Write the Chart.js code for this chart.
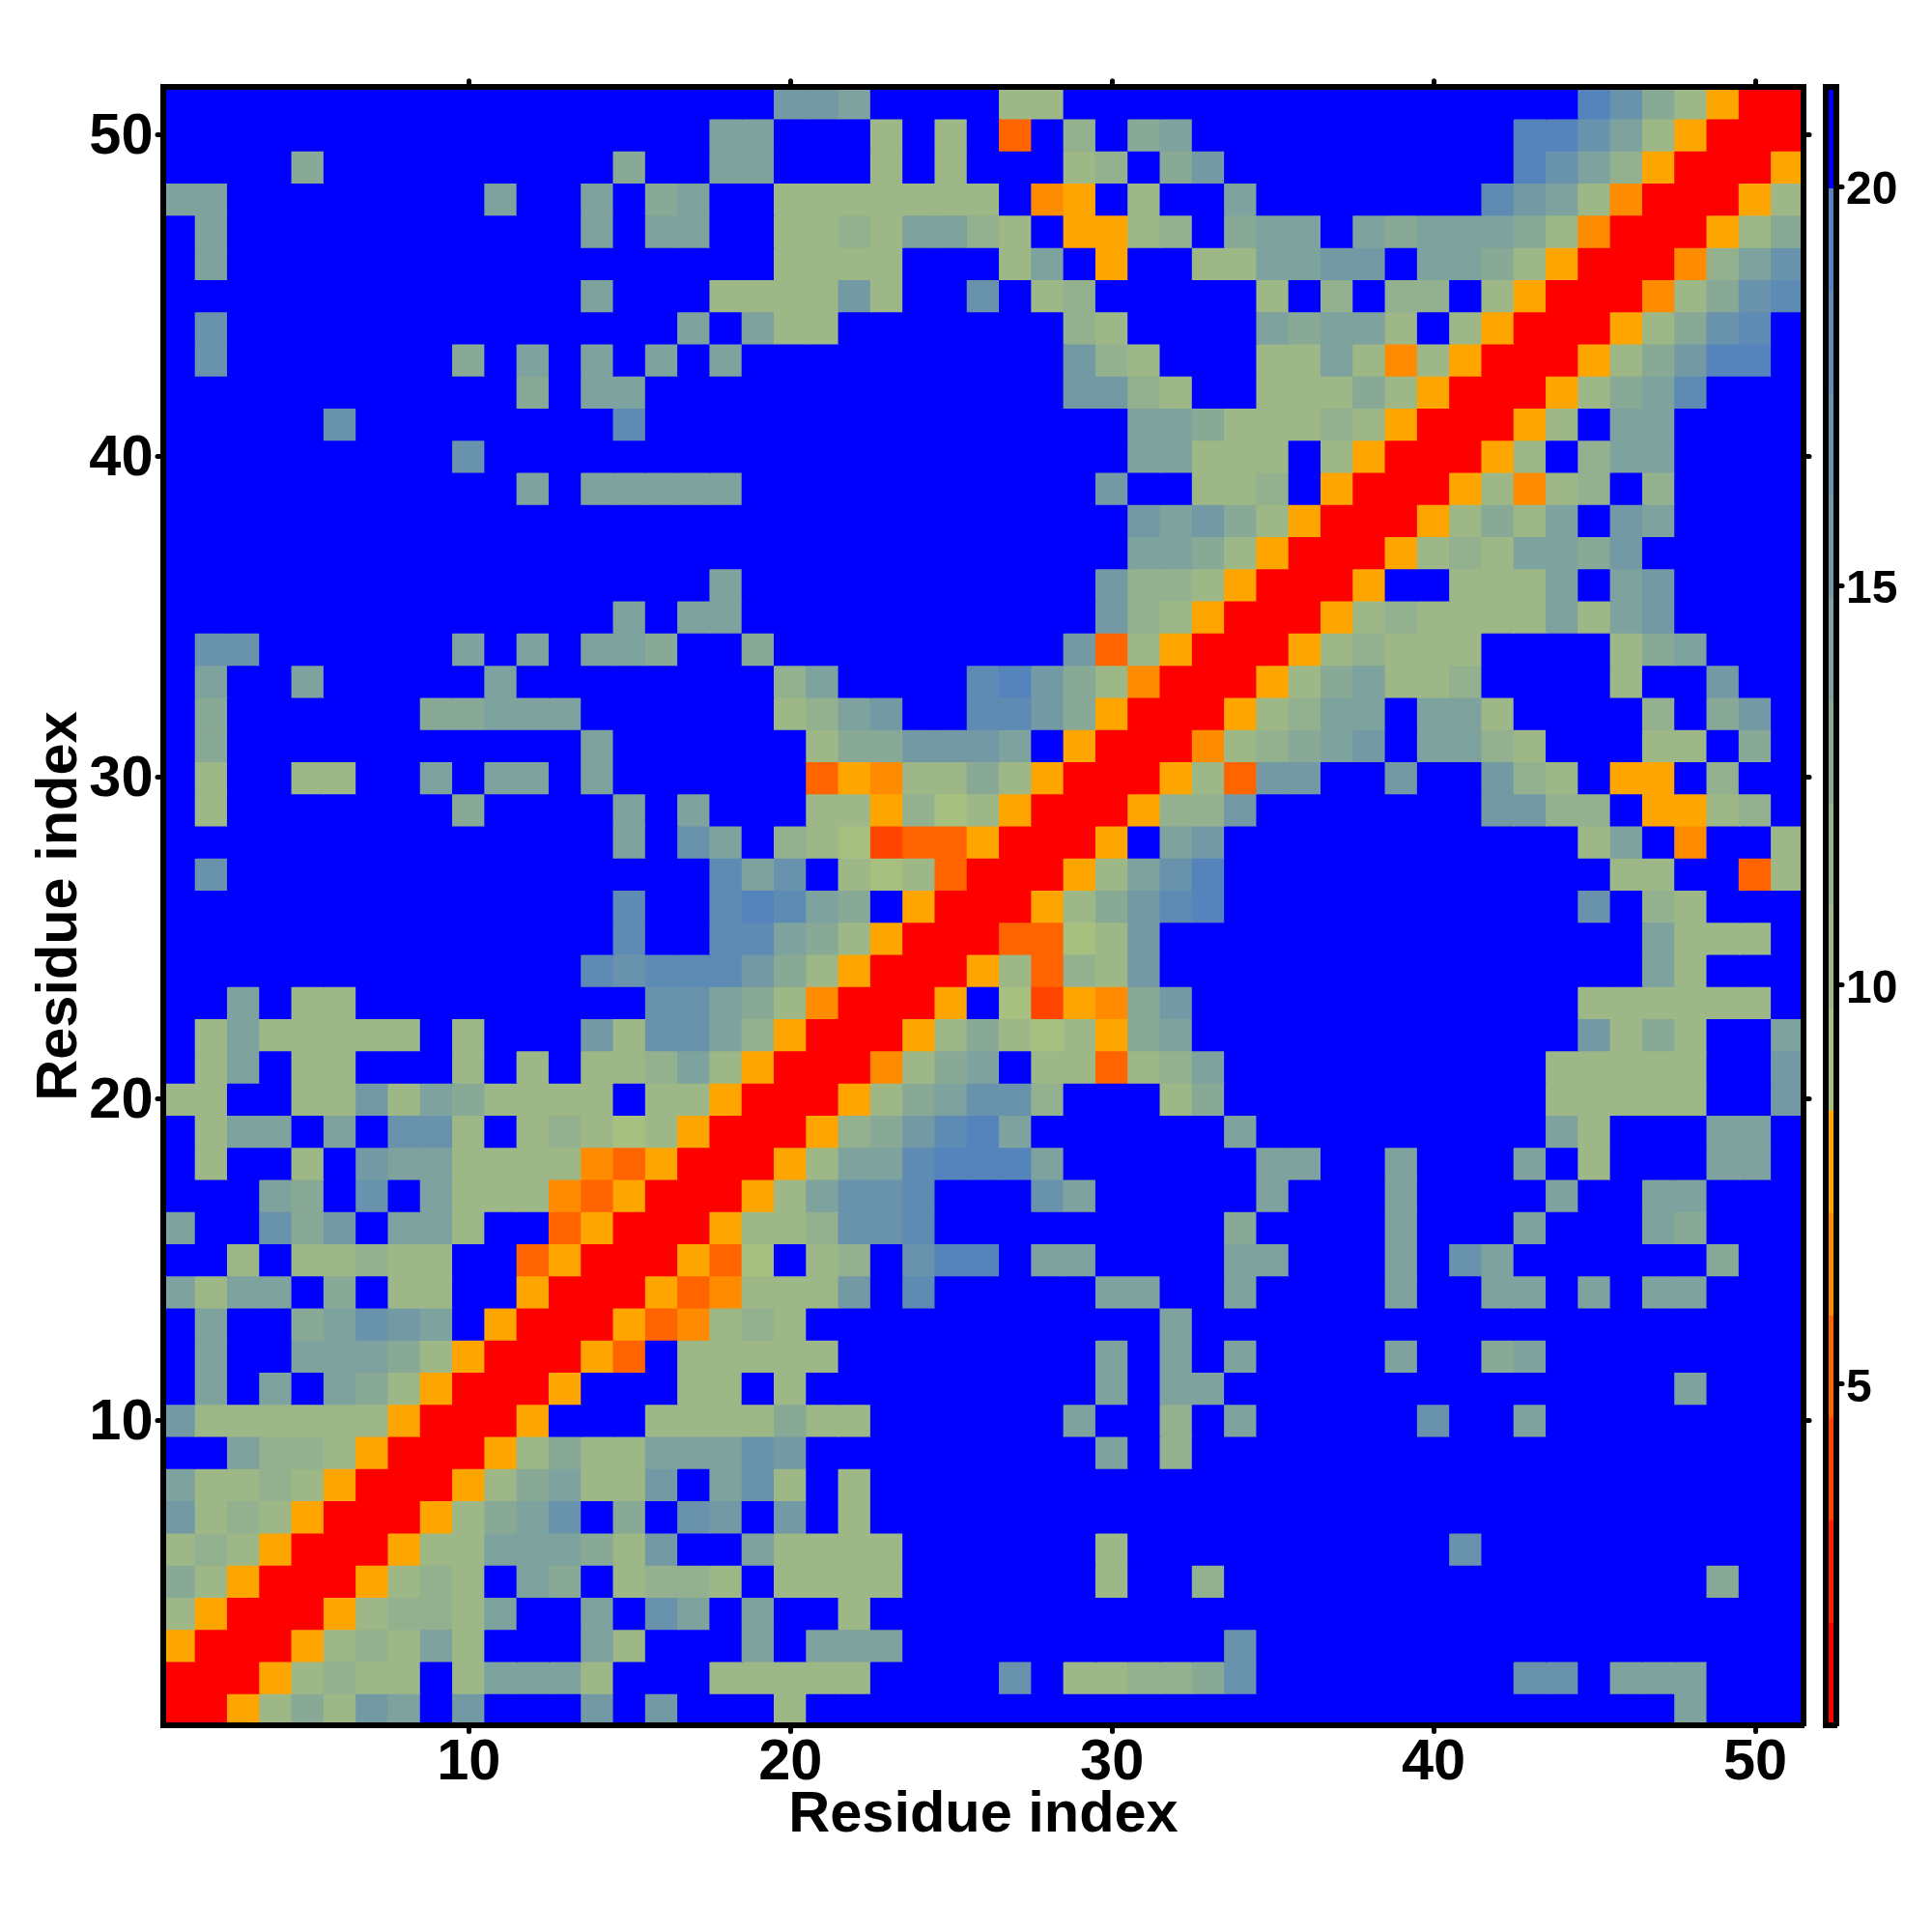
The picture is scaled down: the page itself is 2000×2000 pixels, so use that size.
<!DOCTYPE html>
<html>
<head>
<meta charset="utf-8">
<title>Residue contact map</title>
<script src="https://cdn.jsdelivr.net/npm/chart.js@4"></script>
<style>
  html, body { margin: 0; padding: 0; background: #fff; }
  #wrap { position: relative; width: 2000px; height: 2000px; }
  canvas { position: absolute; top: 0; }
  #map { left: 0; }
  #bar { left: 1880px; }
</style>
</head>
<body>
<div id="wrap">
  <canvas id="map" width="2000" height="2000"></canvas>
  <canvas id="bar" width="120" height="2000"></canvas>
</div>
<script>
// Distance read for each colour level, the level boundaries of the colour key, and its colours
const levelValues = [1.4, 2.6, 3.9, 5.2, 6.5, 7.8, 9.1, 10.3, 11.6, 12.9, 14.2, 15.5, 16.8, 18.1, 19.3, 20.6];
const levelBreaks = [0.72, 2.0, 3.29, 4.57, 5.85, 7.14, 8.42, 9.7, 10.99, 12.27, 13.55, 14.84, 16.12, 17.4, 18.69, 19.97, 21.25];
const levelColors = [
  "#ff0000", "#ff2000", "#ff4500", "#ff6400", "#ff8c00", "#ffa500",
  "#a8c07f", "#9db886", "#93b18e", "#88a995", "#7ea29d", "#739aa4",
  "#6993ac", "#5e8bb3", "#5484bb", "#0000ff"
];
const residues = [1,2,3,4,5,6,7,8,9,10,11,12,13,14,15,16,17,18,19,20,21,22,23,24,25,26,27,28,29,30,31,32,33,34,35,36,37,38,39,40,41,42,43,44,45,46,47,48,49,50,51];
const mapTicks = [10, 20, 30, 40, 50];
const keyTicks = [5, 10, 15, 20];

// One string per residue row, top row (51) first, one hex digit per cell = colour level
const rows = [
  "fffffffffffffffff" + "ffbbaffff77ffffff" + "ffffffffffec97500",
  "fffffffffffffffff" + "aafff7f7f3f8f9aff" + "ffffffffeeca75000",
  "ffff9fffffffff9ff" + "aafff7f7fff78f9bf" + "ffffffffeca850005",
  "aaffffffffaffaf9a" + "ff7777777f45f7ffa" + "fffffffdba7400057",
  "fafffffffffffafaa" + "ff7787aa87f5578f9" + "aafa9aaa974000579",
  "fafffffffffffffff" + "ff7777fff7af5ff77" + "aabbfaa97500048ac",
  "fffffffffffffafff" + "7777b7ffcf78fffff" + "7f8f88f75000479cd",
  "fcffffffffffffffa" + "fa77fffffff87ffff" + "a9aa7f75000579cdf",
  "fcfffffff9fafafaf" + "affffffffffb87fff" + "77a7475000579beef",
  "fffffffffff9faaff" + "fffffffffffbb87ff" + "777975000579adfff",
  "fffffcffffffffdff" + "fffffffffffffaa97" + "7787500057faaffff",
  "fffffffffcfffffff" + "fffffffffffffaa77" + "7f7500057f8aaffff",
  "fffffffffffafaaaa" + "afffffffffffbff77" + "8f500057478f8ffff",
  "fffffffffffffffff" + "fffffffffffffbab9" + "750005797afbaffff",
  "fffffffffffffffff" + "fffffffffffffaa97" + "50005787aa9bfffff",
  "fffffffffffffffff" + "afffffffffffb8875" + "0005ff777afabffff",
  "ffffffffffffffafa" + "afffffffffffb8750" + "005787777a7abffff",
  "fccffffffafafaa9f" + "f9fffffffffb37500" + "0578777ffff79afff",
  "faffafffffaffffff" + "ff8affffdeb974000" + "579a778ffff7ffbff",
  "f9ffffff99aaaffff" + "ff78abffddb950005" + "78aafaa7ffff8f9bf",
  "f9fffffffffffafff" + "fff799bbbaf500047" + "89abfaa87fff77f9f",
  "f7ff77ffafaafafff" + "fff35477975000573" + "bbffbffb87f55f8ff",
  "f7fffffff9ffffafa" + "fff7758675000588b" + "fffffffbb88f5578f",
  "ffffffffffffffafc" + "af87623350005fabf" + "ffffffffff7af4ff7",
  "fcfffffffffffffff" + "dacf767300057acef" + "fffffffffff77ff37",
  "ffffffffffffffdff" + "deda9f5000579bdef" + "ffffffffffcf87fff",
  "ffffffffffffffdff" + "dda9750003367bfff" + "ffffffffffffa777f",
  "fffffffffffffdcdd" + "db97500057387bfff" + "ffffffffffffa7fff",
  "ffaf77fffffffffcc" + "a9740005f62549bff" + "ffffffffff777777f",
  "f7a77777f7fffb7cc" + "a8500057976759aff" + "ffffffffffb797ffa",
  "f7af77fff7f7f778a" + "75000479af77378af" + "fffffffff77777ffb",
  "77ff77b7a97777f77" + "5000579acc8fff79f" + "fffffffff77777ffb",
  "f7aafafcc7f787675" + "000589bdeaffffffa" + "fffffffffa7fffaaf",
  "f7ff7fbaa77774350" + "0057aadeeeaffffff" + "aaffafffaf7fffaaf",
  "fffa9fcfa77743500" + "057accdfffcafffff" + "afffaffffaffaafff",
  "affc9bfaa7ff35000" + "5778ccdfffffffff9" + "ffffafffafffa9fff",
  "ff7f77877ff350005" + "36f78fceefaaffffa" + "afffafcaffffff9ff",
  "a7aaf9f77ff500053" + "4777bfdfffffaaffa" + "ffffaffaafafaafff",
  "faff9acbaf5000534" + "787fffffffffffaff" + "fffffffffffffffff",
  "faffaaa97500053f7" + "7777ffffffffafafa" + "ffffaff9affffffff",
  "fafafa9750005fff7" + "7f7fffffffffafaaf" + "fffffffffffffafff",
  "b77777750005fff77" + "77977ffffffaff8fa" + "fffffcffaffffffff",
  "ffa887500057977aa" + "acbfffffffffaf8ff" + "fffffffffffffffff",
  "a77875000579a77bf" + "ac7f7ffffffffffff" + "fffffffffffffffff",
  "b7875000579acf9fc" + "bfbf7ffffffffffff" + "fffffffffffffffff",
  "7875000577aaa97bf" + "fa7777ffffff7ffff" + "ffffffcffffffffff",
  "9750005787fa9f788" + "7f7777ffffff7ff8f" + "ffffffffffffff9ff",
  "7500057887affafca" + "faff7ffffffffffff" + "fffffffffffffffff",
  "50005787a7fffa7ff" + "fafaaaffffffffffc" + "fffffffffffffffff",
  "00057877f7aaa7fff" + "77777ffffcf77889c" + "ffffffffccfaaafff",
  "005797bafbfffbfbf" + "ff7ffffffffffffff" + "fffffffffffffafff"
];

const colorForValue = (v) => {
  for (let k = 0; k < levelColors.length; k++) {
    if (v < levelBreaks[k + 1]) return levelColors[k];
  }
  return levelColors[levelColors.length - 1];
};

// Rounded tick ends only; the frame is drawn after the datasets with plain ends
const roundCaps = {
  id: "roundCaps",
  beforeDraw(chart) { chart.ctx.lineCap = "round"; },
  beforeDatasetsDraw(chart) { chart.ctx.lineCap = "butt"; }
};

const setTicks = (values) => (scale) => {
  scale.ticks = values.map((v) => ({ value: v, label: String(v) }));
};

const axisBase = {
  border: { color: "#000", width: 6, z: 2 },
  grid: { drawOnChartArea: false, drawTicks: true, tickLength: 6, tickWidth: 5, tickColor: "#000", offset: false }
};

const mapFont = { family: "'Liberation Sans', Arial, sans-serif", weight: "bold", size: 59.5 };

// One floating-bar dataset per row, so each cell is one bar on the shared scales
const mapDatasets = rows.map((row, t) => {
  const residue = residues[residues.length - 1 - t];
  const values = row.split("").map((c) => levelValues[parseInt(c, 16)]);
  return {
    data: residues.map((x) => ({ x, y: [residue - 0.5, residue + 0.5] })),
    backgroundColor: values.map(colorForValue),
    borderWidth: 0,
    inflateAmount: 0.6,
    grouped: false,
    barPercentage: 1,
    categoryPercentage: 1,
    xAxisID: "x",
    yAxisID: "y"
  };
});

new Chart(document.getElementById("map"), {
  type: "bar",
  data: { datasets: mapDatasets },
  plugins: [roundCaps],
  options: {
    responsive: false,
    animation: false,
    layout: { padding: 0 },
    plugins: { legend: { display: false }, tooltip: { enabled: false } },
    scales: {
      x: {
        ...axisBase, type: "linear", position: "bottom", min: 0.5, max: 51.5, offset: false,
        afterBuildTicks: setTicks(mapTicks),
        afterFit: (s) => { s.height = 213.6; },
        ticks: { autoSkip: false, maxRotation: 0, color: "#000", font: mapFont, padding: -3 },
        title: { display: true, text: "Residue index", color: "#000", font: mapFont, padding: { top: 0, bottom: 84.5 } }
      },
      xTop: {
        ...axisBase, type: "linear", position: "top", min: 0.5, max: 51.5, offset: false,
        afterBuildTicks: setTicks(mapTicks),
        afterFit: (s) => { s.height = 89.7; },
        ticks: { display: false }
      },
      y: {
        ...axisBase, type: "linear", position: "left", min: 0.5, max: 51.5,
        afterBuildTicks: setTicks(mapTicks),
        afterFit: (s) => { s.width = 169; },
        ticks: { color: "#000", font: mapFont, padding: 4.5, labelOffset: 3 },
        title: { display: true, text: "Residue index", color: "#000", font: mapFont, padding: { top: 26.5, bottom: 0 } }
      },
      yRight: {
        ...axisBase, type: "linear", position: "right", min: 0.5, max: 51.5,
        afterBuildTicks: setTicks(mapTicks),
        afterFit: (s) => { s.width = 133; },
        ticks: { display: false }
      }
    }
  }
});

// Colour key
const keyDatasets = levelColors.map((color, k) => ({
  data: [[levelBreaks[k], levelBreaks[k + 1]]],
  backgroundColor: color,
  borderWidth: 0,
  inflateAmount: 0.6,
  grouped: false,
  barPercentage: 1,
  categoryPercentage: 1,
  xAxisID: "x",
  yAxisID: "yRight"
}));

const keyBorder = { border: { color: "#000", width: 6, z: 2 }, grid: { display: true, drawOnChartArea: false, drawTicks: false } };

new Chart(document.getElementById("bar"), {
  type: "bar",
  data: { labels: ["key"], datasets: keyDatasets },
  plugins: [roundCaps],
  options: {
    responsive: false,
    animation: false,
    layout: { padding: 0 },
    plugins: { legend: { display: false }, tooltip: { enabled: false } },
    scales: {
      x: { ...keyBorder, type: "category", position: "bottom", afterFit: (s) => { s.height = 213.6; }, ticks: { display: false } },
      xTop: { ...keyBorder, type: "category", labels: ["key"], position: "top", afterFit: (s) => { s.height = 89.7; }, ticks: { display: false } },
      yLeft: { ...keyBorder, type: "linear", position: "left", min: 0.72, max: 21.25, afterFit: (s) => { s.width = 9.5; }, ticks: { display: false } },
      yRight: {
        ...axisBase, type: "linear", position: "right", min: 0.72, max: 21.25,
        afterBuildTicks: setTicks(keyTicks),
        afterFit: (s) => { s.width = 99; },
        ticks: { color: "#000", font: { family: mapFont.family, weight: "bold", size: 48 }, padding: 4, labelOffset: 5 }
      }
    }
  }
});
</script>
</body>
</html>
